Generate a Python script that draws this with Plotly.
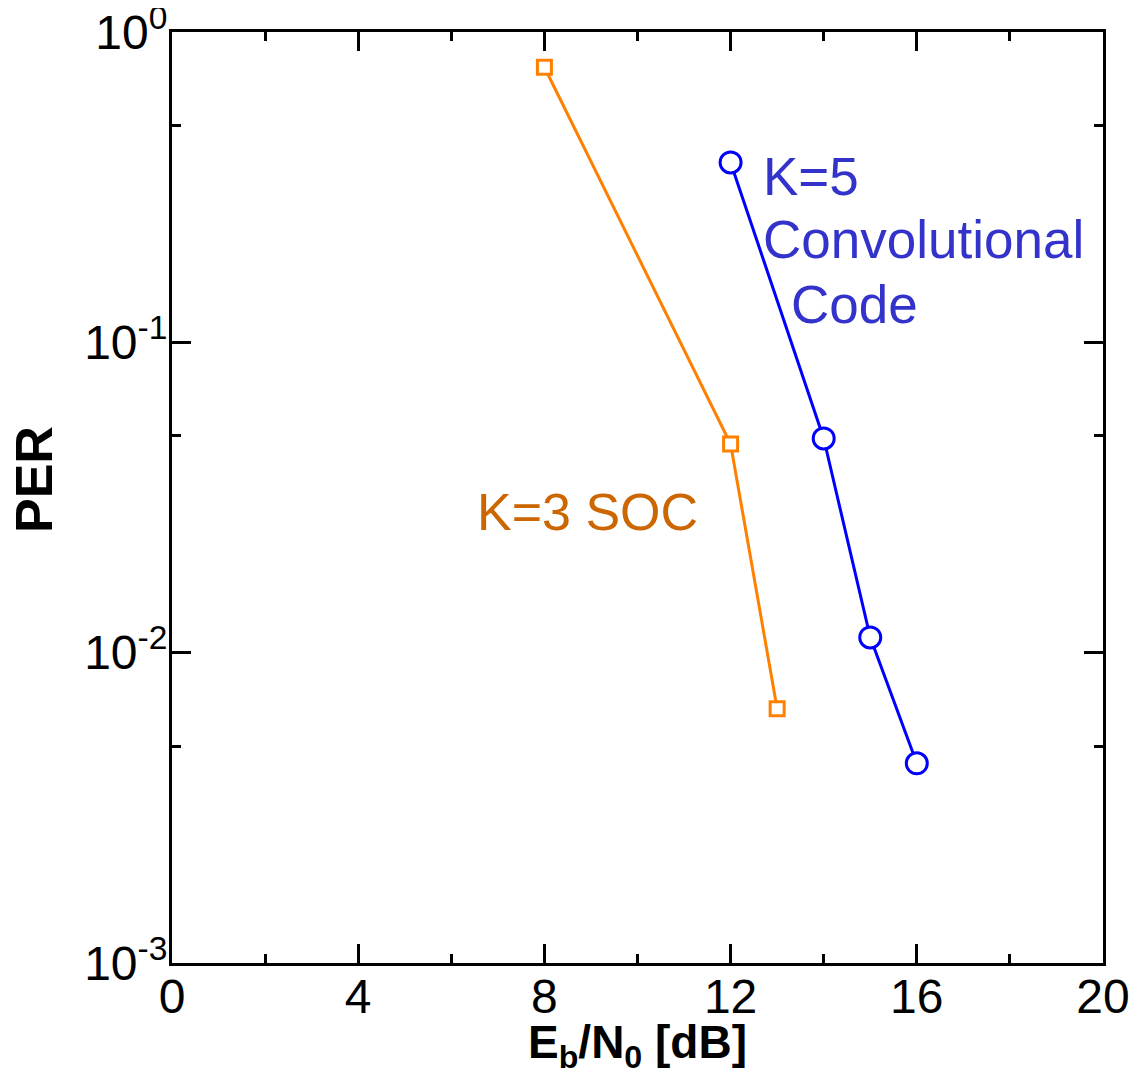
import plotly.graph_objects as go

# Data
soc_x = [8, 12, 13]
soc_y = [0.77, 0.047, 0.0066]
conv_x = [12, 14, 15, 16]
conv_y = [0.38, 0.049, 0.0112, 0.0044]

x_tick_vals = [0, 4, 8, 12, 16, 20]
x_minor_vals = [2, 6, 10, 14, 18]
y_tick_vals = [1e-3, 1e-2, 1e-1, 1]
y_tick_text = ["10<sup>-3</sup>", "10<sup>-2</sup>", "10<sup>-1</sup>", "10<sup>0</sup>"]
y_minor_vals = [0.005, 0.05, 0.5]

FONT = "Liberation Sans, Arial, sans-serif"
ORANGE = "#FF8000"
BLUE = "#0000FF"

fig = go.Figure()
fig.add_trace(go.Scatter(
    x=soc_x, y=soc_y, mode="lines+markers",
    line=dict(color=ORANGE, width=3),
    marker=dict(symbol="square", size=14, color="white", line=dict(color=ORANGE, width=3)),
    showlegend=False, cliponaxis=False,
))
fig.add_trace(go.Scatter(
    x=conv_x, y=conv_y, mode="lines+markers",
    line=dict(color=BLUE, width=3),
    marker=dict(symbol="circle", size=21, color="white", line=dict(color=BLUE, width=3)),
    showlegend=False, cliponaxis=False,
))

axis_common = dict(
    showline=True, linecolor="black", linewidth=3, mirror="allticks",
    ticks="inside", ticklen=19, tickwidth=3, tickcolor="black",
    showgrid=False, zeroline=False, automargin=False,
    ticklabeloverflow="allow",
    tickfont=dict(family=FONT, size=48, color="black"),
)

fig.update_xaxes(
    range=[0, 20], tickmode="array", tickvals=x_tick_vals, ticklabelstandoff=-11,
    minor=dict(tickmode="array", tickvals=x_minor_vals, ticks="inside", ticklen=9, tickwidth=3, tickcolor="black", showgrid=False),
    **axis_common,
)
fig.update_yaxes(
    type="log", range=[-3, 0], tickmode="array", tickvals=y_tick_vals, ticktext=y_tick_text,
    ticklabelstandoff=-8,
    minor=dict(tickmode="array", tickvals=y_minor_vals, ticks="inside", ticklen=9, tickwidth=3, tickcolor="black", showgrid=False),
    **axis_common,
)

annotations = [
    dict(text="<b>E<sub>b</sub>/N<sub>0</sub> [dB]</b>", xref="paper", yref="paper",
         x=0.5, y=-0.089, xanchor="center", yanchor="middle", showarrow=False,
         font=dict(family=FONT, size=46, color="black")),
    dict(text="<b>PER</b>", xref="paper", yref="paper", textangle=-90,
         x=-0.148, y=0.519, xanchor="center", yanchor="middle", showarrow=False,
         font=dict(family=FONT, size=52, color="black")),
    dict(text="K=3 SOC", xref="paper", yref="paper", x=0.325, y=0.4844,
         xanchor="left", yanchor="middle", showarrow=False,
         font=dict(family=FONT, size=52, color="#CC6600")),
    dict(text="K=5", xref="paper", yref="paper", x=0.6326, y=0.8446,
         xanchor="left", yanchor="middle", showarrow=False,
         font=dict(family=FONT, size=53, color="#3333CC")),
    dict(text="Convolutional", xref="paper", yref="paper", x=0.6326, y=0.7766,
         xanchor="left", yanchor="middle", showarrow=False,
         font=dict(family=FONT, size=53, color="#3333CC")),
    dict(text="Code", xref="paper", yref="paper", x=0.6627, y=0.7078,
         xanchor="left", yanchor="middle", showarrow=False,
         font=dict(family=FONT, size=53, color="#3333CC")),
]

# The page has an 8px body margin, so the figure is 8px smaller and shifted.
fig.update_layout(
    width=1130, height=1069,
    margin=dict(l=164, r=35, t=24, b=114),
    paper_bgcolor="white", plot_bgcolor="white",
    font=dict(family=FONT, color="black"),
    annotations=annotations,
)

fig.write_html("out.html")
